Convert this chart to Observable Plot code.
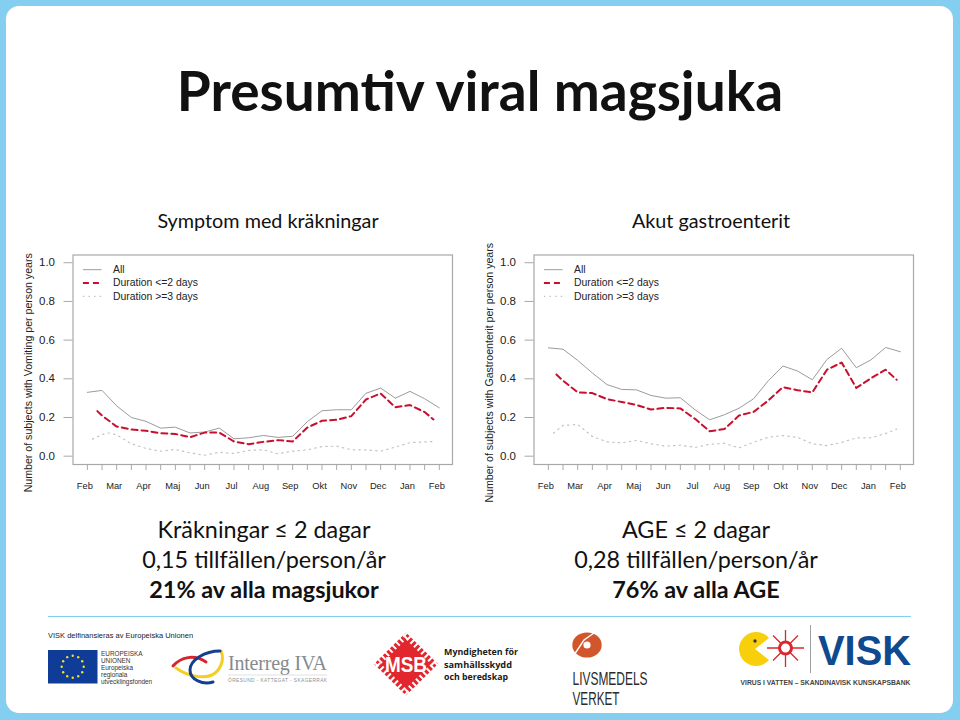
<!DOCTYPE html>
<html lang="sv">
<head>
<meta charset="utf-8">
<script src="https://cdn.jsdelivr.net/npm/d3@7"></script>
<script src="https://cdn.jsdelivr.net/npm/@observablehq/plot@0.6"></script>
<style>
  html, body { margin: 0; padding: 0; background: #84cfef; }
  #page { position: relative; width: 960px; height: 720px; overflow: hidden; background: #84cfef; font-family: Lato, sans-serif; color: #111; }
  #panel { position: absolute; left: 6px; top: 6px; width: 947px; height: 707px; background: #fff; border-radius: 13px; }
  .t { position: absolute; text-align: center; white-space: nowrap; }
  .chart { position: absolute; top: 240px; }
  .chart svg { display: block; background: transparent; }
  #logos { position: absolute; left: 0; top: 0; }
</style>
</head>
<body>
<div id="page">
  <div id="panel"></div>
  <div class="t" id="title" style="left:0;width:960px;top:56px;font-size:55px;font-weight:700;line-height:68px;">Presumtiv viral magsjuka</div>
  <div class="t" style="left:68px;width:400px;top:207px;font-size:19.8px;line-height:26px;">Symptom med kräkningar</div>
  <div class="t" style="left:511px;width:400px;top:207px;font-size:19.8px;line-height:26px;">Akut gastroenterit</div>
  <div id="chartA" class="chart" style="left:20px"></div>
  <div id="chartB" class="chart" style="left:481px"></div>
  <div class="t" style="left:64px;width:400px;top:514px;font-size:23.4px;line-height:30px;">Kräkningar ≤ 2 dagar<br>0,15 tillfällen/person/år<br><b>21% av alla magsjukor</b></div>
  <div class="t" style="left:496px;width:400px;top:514px;font-size:23.4px;line-height:30px;">AGE ≤ 2 dagar<br>0,28 tillfällen/person/år<br><b>76% av alla AGE</b></div>
  <svg id="logos" width="960" height="720" viewBox="0 0 960 720" font-family="Liberation Sans, sans-serif">
    <line x1="48" x2="911" y1="616.5" y2="616.5" stroke="#84cfef" stroke-width="1.2"/>
    <text x="48" y="638" font-size="7.5" fill="#222">VISK delfinansieras av Europeiska Unionen</text>
    <rect x="48" y="650" width="49.5" height="33.5" fill="#0f3c96"/>
    <g fill="#f2e02c" id="stars"></g>
    <g font-size="6.4" fill="#333">
      <text x="101" y="655.5">EUROPEISKA</text><text x="101" y="662.5">UNIONEN</text>
      <text x="101" y="669.5">Europeiska</text><text x="101" y="676.5">regionala</text><text x="101" y="683.5">utvecklingsfonden</text>
    </g>
    <g fill="none" stroke-width="3" stroke-linecap="round">
      <path d="M173 666 C181 657 194 654 206 662" stroke="#d6252c"/>
      <path d="M176 668 C190 678 205 678 212 675 C220 671 225 660 221 651" stroke="#f2cf20"/>
      <path d="M220 651 C205 651 190 660 190 670 C190 680 203 685 213 682" stroke="#123f8f"/>
    </g>
    <text x="228" y="670" font-family="Liberation Serif, serif" font-size="20" fill="#858b90" textLength="99" lengthAdjust="spacing">Interreg IVA</text>
    <line x1="228" x2="327" y1="675" y2="675" stroke="#ccc" stroke-width=".6"/>
    <text x="228" y="682" font-size="4.8" fill="#8b9094" textLength="99" lengthAdjust="spacing">ÖRESUND - KATTEGAT - SKAGERRAK</text>
    <polygon points="406,632.5 438,664 406,695.5 374,664" fill="#e1272d"/>
    <polygon points="406,632.5 438,664 406,695.5 374,664" fill="none" stroke="#fff" stroke-width="10" stroke-dasharray="2 3"/>
    <text x="406" y="672" text-anchor="middle" font-size="22" font-weight="700" fill="#fff" textLength="42" lengthAdjust="spacingAndGlyphs">MSB</text>
    <g font-size="9" font-weight="700" fill="#1a1a1a" font-family="Open Sans, sans-serif">
      <text x="444" y="655" textLength="74" lengthAdjust="spacingAndGlyphs">Myndigheten för</text>
      <text x="444" y="667.5" textLength="68" lengthAdjust="spacingAndGlyphs">samhällsskydd</text>
      <text x="444" y="680" textLength="64" lengthAdjust="spacingAndGlyphs">och beredskap</text>
    </g>
    <ellipse cx="587" cy="645" rx="14.7" ry="12.6" fill="#d2562c"/>
    <circle cx="587" cy="645" r="3.6" fill="#fff"/>
    <path d="M574 655 L584 640 L594 633" stroke="#fff" stroke-width="1.4" fill="none"/>
    <text x="572.5" y="684.5" font-size="17.5" fill="#2a2a2a" textLength="75" lengthAdjust="spacingAndGlyphs">LIVSMEDELS</text>
    <text x="572.5" y="704.5" font-size="17.5" fill="#2a2a2a" textLength="47" lengthAdjust="spacingAndGlyphs">VERKET</text>
    <path d="M755 649 L769 638 A17 17 0 1 0 769 660 Z" fill="#f7cf0a"/>
    <circle cx="755" cy="641" r="1.7" fill="#333"/>
    <g stroke="#d9272d" stroke-width="1.3" fill="none">
      <path d="M767 648H804M785.5 630V667M773 635.5L798 660.5M773 660.5L798 635.5"/>
    </g>
    <circle cx="785.5" cy="648" r="6" fill="#fff" stroke="#d9272d" stroke-width="3"/>
    <line x1="810.5" x2="810.5" y1="625" y2="673" stroke="#888" stroke-width=".8"/>
    <text x="818" y="665" font-size="43" font-weight="700" fill="#0d4a8f" textLength="93" lengthAdjust="spacingAndGlyphs">VISK</text>
    <text x="740.5" y="685" font-size="6.6" font-weight="700" fill="#444" textLength="170" lengthAdjust="spacingAndGlyphs">VIRUS I VATTEN – SKANDINAVISK KUNSKAPSBANK</text>
  </svg>
</div>
<script>
// Shared scale content
const monthLabels = ["Feb","Mar","Apr","Maj","Jun","Jul","Aug","Sep","Okt","Nov","Dec","Jan","Feb"];
const halfMonthTicks = [0,1,2,3,4,5,6,7,8,9,10,11,12,13,14,15,16,17,18,19,20,21,22,23,24];
const monthTicks = [0,2,4,6,8,10,12,14,16,18,20,22,24];
const yTicks = [0,0.2,0.4,0.6,0.8,1];
const legendLabels = ["All","Duration <=2 days","Duration >=3 days"];

// Vomiting panel
const vomitAllX = [0,1,2,3,4,5,6,7,8,9,10,11,12,13,14,15,16,17,18,19,20,21,22,23,24];
const vomitAll = [0.33,0.34,0.26,0.20,0.18,0.145,0.15,0.12,0.125,0.145,0.09,0.095,0.107,0.097,0.103,0.178,0.235,0.24,0.24,0.325,0.352,0.30,0.335,0.297,0.25];
const vomitShortX = [0.68,1,2,3,4,5,6,7,8,9,10,11,12,13,14,15,16,17,18,19,20,21,22,23,23.6];
const vomitShort = [0.233,0.21,0.153,0.138,0.131,0.119,0.115,0.098,0.122,0.122,0.076,0.062,0.074,0.083,0.076,0.148,0.183,0.188,0.207,0.293,0.324,0.253,0.264,0.228,0.19];
const vomitLongX = [0.35,1,1.5,2,3,4,5,6,7,8,9,10,11,12,13,14,15,16,17,18,19,20,21,22,23,23.75];
const vomitLong = [0.088,0.112,0.12,0.11,0.064,0.04,0.026,0.035,0.017,0.005,0.02,0.014,0.03,0.033,0.012,0.026,0.033,0.05,0.052,0.033,0.033,0.026,0.047,0.07,0.074,0.076];

// Gastroenteritis panel
const ageAllX = [0,1,2,3,4,5,6,7,8,9,10,11,12,13,14,15,16,17,18,19,20,21,22,23,24];
const ageAll = [0.56,0.553,0.495,0.43,0.37,0.345,0.343,0.314,0.30,0.302,0.24,0.188,0.214,0.248,0.297,0.39,0.466,0.44,0.395,0.50,0.558,0.457,0.498,0.562,0.54];
const ageShortX = [0.55,1,2,3,4,5,6,7,8,9,10,11,12,13,14,15,16,17,18,19,20,21,22,23,23.75];
const ageShort = [0.422,0.39,0.33,0.326,0.295,0.28,0.265,0.241,0.25,0.247,0.193,0.129,0.14,0.21,0.229,0.288,0.357,0.341,0.33,0.447,0.484,0.353,0.403,0.447,0.395];
const ageLongX = [0.35,1,2,3,4,5,6,7,8,9,10,11,12,13,14,15,16,17,18,19,20,21,22,23,23.75];
const ageLong = [0.119,0.159,0.164,0.102,0.074,0.069,0.081,0.064,0.052,0.057,0.045,0.062,0.066,0.043,0.072,0.098,0.107,0.097,0.064,0.055,0.071,0.095,0.095,0.117,0.14];

const C = {all:"#9b9b9b", short:"#c8102e", long:"#c2c2c2", frame:"#a8a8a8", text:"#222"};
const seriesStyle = [
  {stroke:C.all, strokeWidth:1},
  {stroke:C.short, strokeWidth:2, strokeDasharray:"6,4"},
  {stroke:C.long, strokeWidth:1.2, strokeDasharray:"1.4,4.2"}
];
const zip = (xs, ys) => xs.map((x,i) => ({x, y: ys[i]}));

function panel(el, yLabel, series) {
  const legendY = [0.964, 0.895, 0.826];
  const chart = Plot.plot({
    width: 440, height: 270,
    marginLeft: 52.5, marginRight: 8, marginTop: 14.5, marginBottom: 46,
    style: {fontFamily: "Liberation Sans, sans-serif", background: "transparent", color: C.text},
    x: {type:"linear", domain:[-0.98,24.9], axis:null},
    y: {type:"linear", domain:[-0.043,1.04], axis:null},
    marks: [
      Plot.frame({stroke:C.frame, strokeWidth:1.2}),
      Plot.axisY({ticks:yTicks, tickSize:9, tickPadding:9, stroke:C.frame, fill:C.text, fontSize:11.5, tickFormat:d3.format(".1f"), label:null}),
      Plot.axisX({ticks:halfMonthTicks, tickSize:6, stroke:C.frame, tickFormat:()=>"", label:null}),
      Plot.axisX({ticks:monthTicks, tickSize:0, tickPadding:18, dx:-2.5, fill:C.text, fontSize:9.3, tickFormat:d=>monthLabels[d/2], label:null}),
      Plot.text([yLabel], {text:d=>d, frameAnchor:"left", textAnchor:"middle", lineWidth:60, rotate:-90, dx:-44, dy:13, fontSize:10.6, fill:C.text}),
      ...series.map((s,i) => Plot.line(s, {x:"x", y:"y", ...seriesStyle[i]})),
      ...legendLabels.map((label,i) => Plot.ruleY([legendY[i]], {x1:-0.27, x2:1, ...seriesStyle[i]})),
      Plot.text(legendLabels, {x:1.75, y:(d,i)=>legendY[i], text:d=>d, textAnchor:"start", fontSize:10.4, fill:C.text})
    ]
  });
  document.getElementById(el).appendChild(chart);
}
panel("chartA", "Number of subjects with Vomiting per person years",
  [zip(vomitAllX,vomitAll), zip(vomitShortX,vomitShort), zip(vomitLongX,vomitLong)]);
panel("chartB", "Number of subjects with Gastroenterit per person years",
  [zip(ageAllX,ageAll), zip(ageShortX,ageShort), zip(ageLongX,ageLong)]);

// EU flag stars
const stars = document.getElementById("stars");
for (let i = 0; i < 12; i++) {
  const a = i * Math.PI / 6;
  const c = document.createElementNS("http://www.w3.org/2000/svg","circle");
  c.setAttribute("cx", 72.7 + 11 * Math.cos(a));
  c.setAttribute("cy", 666.7 + 11 * Math.sin(a));
  c.setAttribute("r", 1.2);
  stars.appendChild(c);
}
</script>
</body>
</html>
